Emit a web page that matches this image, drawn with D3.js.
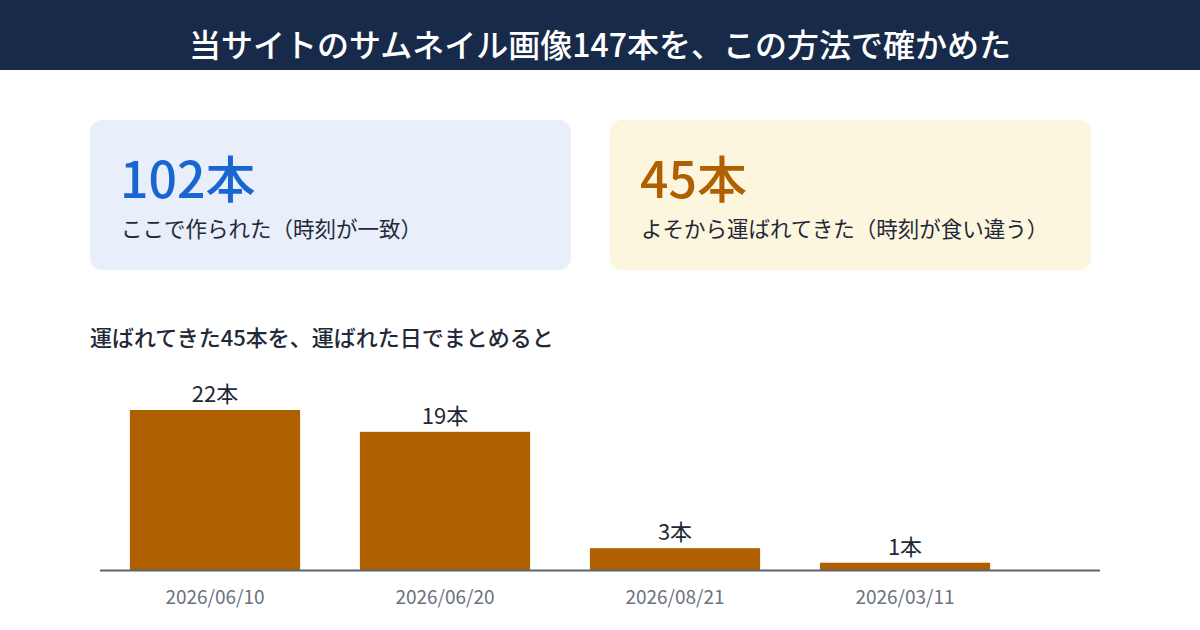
<!DOCTYPE html>
<html>
<head>
<meta charset="utf-8">
<script src="https://cdn.jsdelivr.net/npm/d3@7"></script>
<style>
  body { margin: 0; background: #fff; }
  svg { display: block; font-family: "Noto Sans CJK JP", "Noto Sans", sans-serif; }
</style>
</head>
<body>
<div id="chart"></div>
<script>
// data
var title = "当サイトのサムネイル画像147本を、この方法で確かめた"
var cardValues = ["102本", "45本"]
var cardLabels = ["ここで作られた（時刻が一致）", "よそから運ばれてきた（時刻が食い違う）"]
var cardFills = ["#e8effb", "#fdf6de"]
var cardColors = ["#1a66d1", "#b06000"]
var heading = "運ばれてきた45本を、運ばれた日でまとめると"
var dates = ["2026/06/10", "2026/06/20", "2026/08/21", "2026/03/11"]
var counts = [22, 19, 3, 1]

var W = 1200, H = 630

var svg = d3.select("#chart").append("svg")
    .attr("width", W)
    .attr("height", H)

// header band
svg.append("rect").attr("x", 0).attr("y", 0).attr("width", W).attr("height", 70).attr("fill", "#172a4a")
svg.append("text").text(title)
    .attr("x", W / 2).attr("y", 57)
    .attr("text-anchor", "middle")
    .attr("fill", "#fff")
    .style("font-size", "32px")
    .style("font-weight", 500)

// the two cards
var card = svg.selectAll(".card")
    .data(cardValues)
  .enter().append("g")
    .attr("class", "card")
    .attr("transform", function(d, i) { return "translate(" + (90 + i * 520) + ",120)" })

card.append("rect")
    .attr("width", 481).attr("height", 150)
    .attr("rx", 12)
    .attr("fill", function(d, i) { return cardFills[i] })

card.append("text")
    .text(function(d) { return d })
    .attr("x", 30).attr("y", 78)
    .attr("fill", function(d, i) { return cardColors[i] })
    .style("font-size", "50px")
    .style("font-weight", 500)

card.append("text")
    .text(function(d, i) { return cardLabels[i] })
    .attr("x", 31).attr("y", 117)
    .attr("fill", "#1f2937")
    .style("font-size", "21.5px")

// section heading
svg.append("text").text(heading)
    .attr("x", 90).attr("y", 346)
    .attr("fill", "#1f2937")
    .style("font-size", "22px")
    .style("font-weight", 500)

// bar chart
var x = d3.scaleBand()
    .domain(dates)
    .range([100, 1020])
    .paddingInner(0.26)
    .paddingOuter(0.13)

var y = d3.scaleLinear()
    .domain([0, d3.max(counts)])
    .range([570, 410])

svg.append("g").selectAll("rect")
    .data(counts)
  .enter().append("rect")
    .attr("x", function(d, i) { return x(dates[i]) })
    .attr("y", function(d) { return y(d) })
    .attr("width", x.bandwidth())
    .attr("height", function(d) { return y(0) - y(d) })
    .attr("fill", "#b06000")

svg.append("g").selectAll("text")
    .data(counts)
  .enter().append("text")
    .text(function(d) { return d + "本" })
    .attr("x", function(d, i) { return x(dates[i]) + x.bandwidth() / 2 })
    .attr("y", function(d) { return y(d) - 8 })
    .attr("text-anchor", "middle")
    .attr("fill", "#1f2937")
    .style("font-size", "22px")

// baseline axis
var axis = svg.append("g")
    .attr("transform", "translate(0,570)")
    .call(d3.axisBottom(x).tickSize(0).tickPadding(21).tickSizeOuter(0))
axis.select(".domain").remove()
axis.append("line")
    .attr("x1", 100).attr("x2", 1100)
    .attr("y1", 0.5).attr("y2", 0.5)
    .attr("stroke", "#5b6270").attr("stroke-width", 2)
axis.selectAll(".tick text")
    .attr("fill", "#6b7280")
    .style("font-size", "19px")
    .style("font-family", "\"Noto Sans CJK JP\", \"Noto Sans\", sans-serif")
</script>
</body>
</html>
